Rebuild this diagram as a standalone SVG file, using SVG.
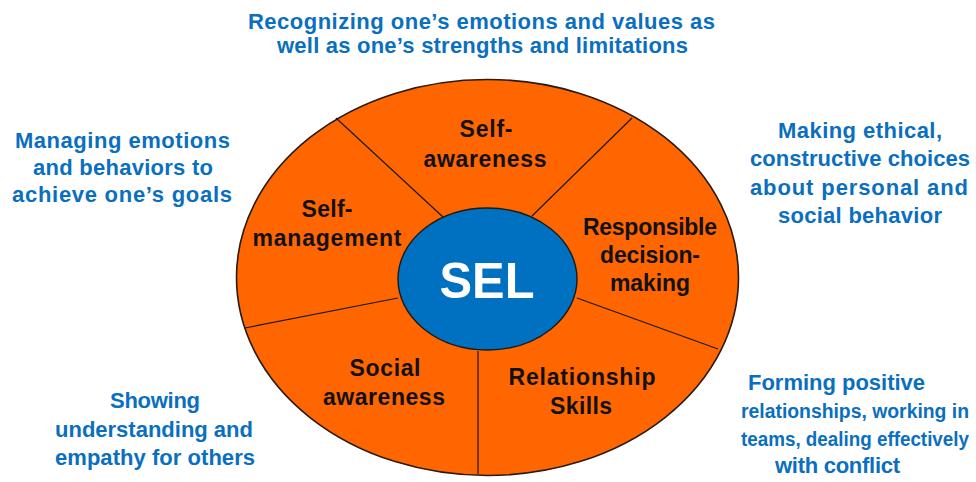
<svg xmlns="http://www.w3.org/2000/svg" width="976" height="482" viewBox="0 0 976 482">
  <style>
    .ring { fill: #FF6600; stroke: #2a1a10; stroke-width: 1.6; }
    .hub { fill: #0070C0; stroke: #1a1a1a; stroke-width: 1.4; }
    .divider { stroke: #1a1a1a; stroke-width: 1.2; fill: none; }
    .seg { font-family: "Liberation Sans", Arial, sans-serif; font-weight: bold; font-size: 23px; fill: #111; text-anchor: middle; }
    .hubtext { font-family: "Liberation Sans", Arial, sans-serif; font-weight: bold; font-size: 50px; fill: #ffffff; text-anchor: middle; }
    .desc { font-family: "Liberation Sans", Arial, sans-serif; font-weight: bold; font-size: 22px; fill: #0a6fc0; text-anchor: middle; }
    .tight { font-size: 19.5px; }
  </style>

  <rect width="976" height="482" fill="#ffffff"/>

  <!-- outer wheel -->
  <g id="wheel">
    <ellipse class="ring" cx="487.5" cy="277.5" rx="251" ry="198"/>
  </g>

  <!-- spokes between the five competencies -->
  <g id="connectors">
    <line class="divider" x1="336" y1="118" x2="443" y2="217"/>
    <line class="divider" x1="632" y1="118" x2="532" y2="216"/>
    <line class="divider" x1="577" y1="298" x2="718" y2="349"/>
    <line class="divider" x1="478" y1="351" x2="478" y2="474"/>
    <line class="divider" x1="398" y1="298" x2="245" y2="328"/>
  </g>

  <!-- hub -->
  <g id="sel">
    <ellipse class="hub" cx="487.5" cy="279" rx="89.5" ry="71"/>
    <text class="hubtext" x="487" y="298" textLength="95" lengthAdjust="spacingAndGlyphs">SEL</text>
  </g>

  <!-- segment labels -->
  <g id="self-awareness">
    <text class="seg" x="486" y="137" textLength="53">Self-</text>
    <text class="seg" x="485" y="167" textLength="123">awareness</text>
  </g>
  <g id="self-management">
    <text class="seg" x="327" y="217" textLength="51">Self-</text>
    <text class="seg" x="327" y="246" textLength="149">management</text>
  </g>
  <g id="responsible-decision-making">
    <text class="seg" x="650" y="235" textLength="134">Responsible</text>
    <text class="seg" x="650" y="263" textLength="100">decision-</text>
    <text class="seg" x="650" y="291" textLength="80">making</text>
  </g>
  <g id="social-awareness">
    <text class="seg" x="385" y="376" textLength="71">Social</text>
    <text class="seg" x="384" y="405" textLength="122">awareness</text>
  </g>
  <g id="relationship-skills">
    <text class="seg" x="582" y="385" textLength="147">Relationship</text>
    <text class="seg" x="581" y="414" textLength="62">Skills</text>
  </g>

  <!-- descriptions -->
  <g id="desc-self-awareness">
    <text class="desc" x="481.5" y="29" textLength="467">Recognizing one’s emotions and values as</text>
    <text class="desc" x="482.5" y="53" textLength="411">well as one’s strengths and limitations</text>
  </g>
  <g id="desc-self-management">
    <text class="desc" x="122.5" y="148" textLength="215">Managing emotions</text>
    <text class="desc" x="123" y="175" textLength="180">and behaviors to</text>
    <text class="desc" x="122" y="202" textLength="220">achieve  one’s goals</text>
  </g>
  <g id="desc-decision-making">
    <text class="desc" x="860" y="138" textLength="164">Making ethical,</text>
    <text class="desc" x="860" y="166" textLength="220">constructive choices</text>
    <text class="desc" x="859" y="195" textLength="218">about personal  and</text>
    <text class="desc" x="860" y="223" textLength="164">social behavior</text>
  </g>
  <g id="desc-relationship-skills">
    <text class="desc" x="836.5" y="390" textLength="177">Forming positive</text>
    <text class="desc tight" x="855" y="418" textLength="228" lengthAdjust="spacingAndGlyphs">relationships,  working in</text>
    <text class="desc tight" x="855" y="446" textLength="228" lengthAdjust="spacingAndGlyphs">teams, dealing effectively</text>
    <text class="desc" x="837.5" y="473" textLength="125">with conflict</text>
  </g>
  <g id="desc-social-awareness">
    <text class="desc" x="155" y="408" textLength="90">Showing</text>
    <text class="desc" x="154" y="437" textLength="198">understanding and</text>
    <text class="desc" x="155" y="465" textLength="200">empathy for others</text>
  </g>
</svg>
